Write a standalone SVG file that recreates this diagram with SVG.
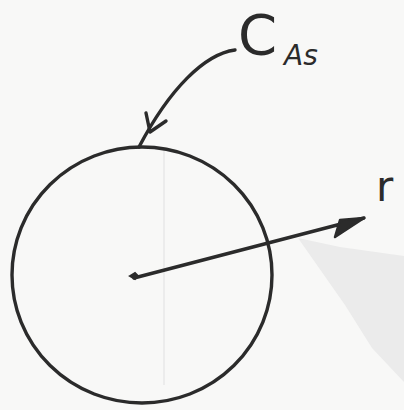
<svg xmlns="http://www.w3.org/2000/svg" width="404" height="410" viewBox="0 0 404 410">
<style>
.ink{fill:none;stroke:#2b2b2b;stroke-width:3.4;stroke-linecap:round;stroke-linejoin:round}
.lbl{font-family:"DejaVu Sans","Liberation Sans",sans-serif;fill:#2b2b2b}
</style>
<rect width="404" height="410" fill="#f8f8f7"/>
<g id="background">
<polygon points="298,238 340,247 404,256 404,382 372,348 345,305" fill="#ebebeb"/>
<line x1="164" y1="150" x2="164" y2="385" stroke="#ececec" stroke-width="2"/>
</g>
<g id="circle">
<ellipse cx="142" cy="275" rx="130" ry="128" class="ink"/>
<path d="M130,276 l5,-3 l3,3 l-3,3 z" fill="#2b2b2b" stroke="#2b2b2b" stroke-width="2"/>
</g>
<g id="label-cas">
<text x="238" y="54" class="lbl" font-size="56">C</text>
<text x="284" y="65" class="lbl" font-size="28" font-style="italic">As</text>
</g>
<g id="label-r">
<text x="376" y="201" class="lbl" font-size="42">r</text>
</g>
<g id="connectors">
<path d="M235,50 C205,54 170,88 139,147" class="ink"/>
<path d="M146,113 L150,132 L166,121" class="ink"/>
<path d="M134,278 L364,218" class="ink"/>
<path d="M340,220 L364,218 L335,237 Z" fill="#2b2b2b" stroke="#2b2b2b" stroke-width="2.5" stroke-linejoin="round"/>
</g>
</svg>
